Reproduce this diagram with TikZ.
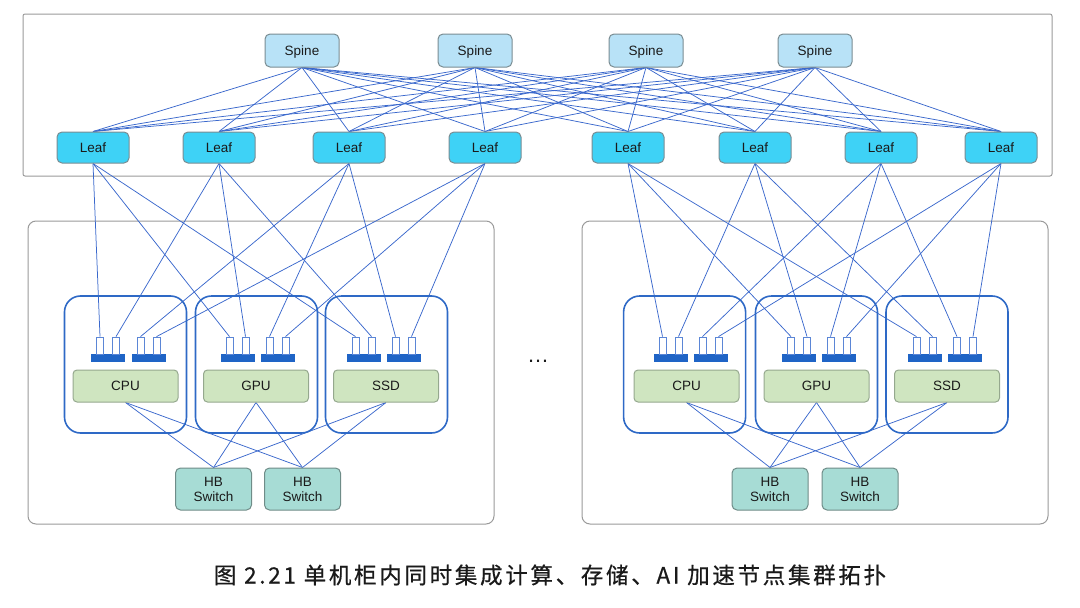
\documentclass[tikz,border=0pt]{standalone}
\usepackage{fontspec}
\setmainfont{Liberation Sans}
\newfontfamily\cjkfont[LetterSpace=12,FakeBold=0.6]{Noto Sans CJK SC}
\definecolor{spinefill}{HTML}{B8E2F7}
\definecolor{leaffill}{HTML}{3ED2F6}
\definecolor{boxedge}{HTML}{7A8C92}
\definecolor{compfill}{HTML}{CFE5C0}
\definecolor{compedge}{HTML}{95A88E}
\definecolor{hbfill}{HTML}{A7DCD5}
\definecolor{hbedge}{HTML}{6F8C88}
\definecolor{modedge}{HTML}{2E69C6}
\definecolor{linkc}{HTML}{3A68CC}
\definecolor{portc}{HTML}{5B86D6}
\definecolor{barc}{HTML}{1F64C6}
\definecolor{podedge}{HTML}{9A9A9A}
\definecolor{txt}{HTML}{1A1A1A}
\pgfdeclarelayer{background}
\pgfsetlayers{background,main}
\tikzset{
  labelfont/.style={font=\fontsize{13.5}{15}\selectfont, text=txt},
  spinebox/.style={labelfont, draw=boxedge, fill=spinefill, line width=1pt, rounded corners=5pt, minimum width=74pt, minimum height=33pt, inner sep=0pt, text depth=0pt},
  leafbox/.style={labelfont, draw=boxedge, fill=leaffill, line width=1pt, rounded corners=5pt, minimum width=72pt, minimum height=31pt, inner sep=0pt},
  modbox/.style={draw=modedge, line width=1.6pt, rounded corners=16pt, minimum width=122pt, minimum height=137pt, inner sep=0pt},
  compbox/.style={labelfont, draw=compedge, fill=compfill, line width=1pt, rounded corners=4pt, minimum width=105pt, minimum height=32pt, inner sep=0pt},
  hbbox/.style={labelfont, draw=hbedge, fill=hbfill, line width=1pt, rounded corners=5pt, minimum width=76pt, minimum height=42pt, inner sep=0pt, align=center},
  portbar/.style={fill=barc, draw=none, minimum width=34pt, minimum height=8pt, inner sep=0pt},
  portbox/.style={draw=portc, fill=white, line width=0.8pt, minimum width=7pt, minimum height=17pt, inner sep=0pt},
  link/.style={draw=linkc, line width=0.75pt},
  framebox/.style={draw=podedge, line width=1pt}
}
\begin{document}
\begin{tikzpicture}[x=1pt, y=-1pt]
\useasboundingbox (0,0) rectangle (1080,608);

% spines and leaves
\foreach \x [count=\i] in {302,475,646,815}
  \node[spinebox] (s\i) at (\x,50.5) {Spine};
\foreach \x [count=\i] in {93,219,349,485,628,755,881,1001}
  \node[leafbox] (l\i) at (\x,147.5) {Leaf};

% modules, components, port bars, ports
\foreach \mx/\cx/\ba/\bb/\lab [count=\i] in {
  125.5/125.5/108/148.5/CPU, 256.5/256/237.5/277.5/GPU, 386.5/386/363.5/403.5/SSD,
  684.6/686.5/670.5/710.5/CPU, 816.5/816.5/799/838.5/GPU, 947/947/924.5/965/SSD}{
  \node[modbox] (mod\i) at (\mx,364.5) {};
  \node[compbox] (comp\i) at (\cx,386) {\lab};
  \node[portbar] (bar\i a) at (\ba,358) {};
  \node[portbar] (bar\i b) at (\bb,358) {};
  \node[portbox] (port\i-1) at (\ba-8,345.5) {};
  \node[portbox] (port\i-2) at (\ba+8,345.5) {};
  \node[portbox] (port\i-3) at (\bb-8,345.5) {};
  \node[portbox] (port\i-4) at (\bb+8,345.5) {};
}

% HB switches
\foreach \x [count=\i] in {213.5,302.5,770,860}
  \node[hbbox] (hb\i) at (\x,489) {HB\\Switch};

% ellipsis and caption
\node[font=\fontsize{22}{22}\selectfont, text=txt, anchor=base, inner sep=0pt] (dots) at (538,362) {…};
\node[font=\cjkfont\fontsize{22.5}{24}\selectfont, text=txt, inner sep=0pt] (cap) at (550,575) {图 2.21 单机柜内同时集成计算、存储、AI 加速节点集群拓扑};

\begin{pgfonlayer}{background}
  \draw[framebox, rounded corners=2pt] (23,14) rectangle (1052,176);
  \draw[framebox, rounded corners=8pt] (28,221) rectangle (494,524);
  \draw[framebox, rounded corners=8pt] (582,221) rectangle (1048,524);
  % spine-leaf full mesh
  \foreach \s in {1,...,4}
    \foreach \l in {1,...,8}
      \draw[link] (s\s.south) -- (l\l.north);
  % leaf to ports
  \foreach \k in {1,...,4}
    \foreach \m in {1,2,3}
      \draw[link] (l\k.south) -- (port\m-\k.north);
  \foreach \k in {1,...,4}
    \foreach \m in {4,5,6}{
      \pgfmathtruncatemacro\kk{\k+4}
      \draw[link] (l\kk.south) -- (port\m-\k.north);
    }
  % components to HB switches
  \foreach \m in {1,2,3}
    \foreach \h in {1,2}
      \draw[link] (comp\m.south) -- (hb\h.north);
  \foreach \m in {4,5,6}
    \foreach \h in {3,4}
      \draw[link] (comp\m.south) -- (hb\h.north);
\end{pgfonlayer}
\end{tikzpicture}
\end{document}
